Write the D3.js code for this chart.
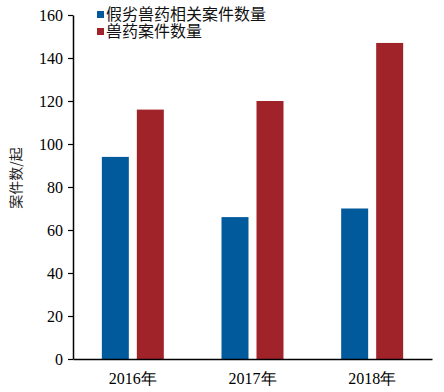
<!DOCTYPE html>
<html>
<head>
<meta charset="utf-8">
<script src="https://cdn.jsdelivr.net/npm/d3@7"></script>
<style>
  body { margin: 0; background: #fff; }
  svg { display: block; }
</style>
</head>
<body>
<svg id="chart" width="444" height="392"></svg>
<script>
const years = ["2016年", "2017年", "2018年"];
const seriesNames = ["假劣兽药相关案件数量", "兽药案件数量"];
const fakeCases = [94, 66, 70];
const allCases = [116, 120, 147];
const yTicks = [0, 20, 40, 60, 80, 100, 120, 140, 160];
const colors = ["#005a9c", "#a0232a"];

const svg = d3.select("#chart");
const plotLeft = 73, plotRight = 432, plotTop = 15, plotBottom = 359;
const numFont = "'Liberation Serif', 'Times New Roman', serif";
const cjkFont = "'Noto Sans CJK SC', sans-serif";

const x0 = d3.scaleBand().domain(years).range([plotLeft, plotRight]).padding(0);
const x1 = d3.scaleBand().domain(seriesNames).range([0, x0.bandwidth()])
  .paddingInner(0.229).paddingOuter(0.824);
const y = d3.scaleLinear().domain([0, 160]).range([plotBottom, plotTop]);

const rows = years.map((yr, i) => ({ year: yr, values: [fakeCases[i], allCases[i]] }));

// bars
const g = svg.append("g");
g.selectAll("g.grp").data(rows).enter().append("g")
  .attr("class", "grp")
  .attr("transform", d => `translate(${x0(d.year)},0)`)
  .selectAll("rect")
  .data(d => d.values.map((v, j) => ({ name: seriesNames[j], v, j })))
  .enter().append("rect")
  .attr("x", d => x1(d.name))
  .attr("width", x1.bandwidth())
  .attr("y", d => y(d.v))
  .attr("height", d => y(0) - y(d.v))
  .attr("fill", d => colors[d.j]);

// y axis
const yAxis = svg.append("g")
  .attr("transform", `translate(${plotLeft},0)`)
  .call(d3.axisLeft(y).tickValues(yTicks).tickSize(5).tickSizeOuter(0).tickPadding(5));
yAxis.select(".domain").attr("stroke", "#000").attr("stroke-width", 1.5);
yAxis.selectAll(".tick line").attr("stroke", "#000").attr("stroke-width", 1.2);
yAxis.selectAll(".tick text")
  .attr("font-family", numFont).attr("font-size", 16).attr("fill", "#000");

// x axis
const xAxis = svg.append("g")
  .attr("transform", `translate(0,${plotBottom})`)
  .call(d3.axisBottom(x0).tickSize(0).tickPadding(14));
xAxis.select(".domain").attr("stroke", "#000").attr("stroke-width", 1.5);
xAxis.selectAll(".tick text")
  .attr("font-family", numFont).attr("font-size", 16).attr("fill", "#000");

// y title
svg.append("text")
  .attr("transform", "translate(21,178) rotate(-90)")
  .attr("text-anchor", "middle")
  .attr("font-family", cjkFont)
  .attr("font-size", 14)
  .attr("fill", "#222")
  .text("案件数/起");

// legend (rows sit tight like the original)
const legend = svg.append("g").attr("transform", "translate(97,11)");
seriesNames.forEach((name, i) => {
  const row = legend.append("g").attr("transform", `translate(0,${i * 17})`);
  row.append("rect").attr("width", 7).attr("height", 7).attr("fill", colors[i]);
  row.append("text")
    .attr("x", 9).attr("y", 3.5).attr("dy", "0.36em")
    .attr("font-family", cjkFont).attr("font-size", 16)
    .attr("fill", "#111")
    .text(name);
});
</script>
</body>
</html>
